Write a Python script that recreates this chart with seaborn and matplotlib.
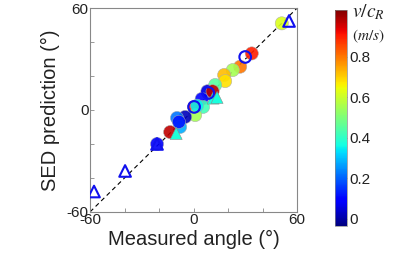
import numpy as np
import pandas as pd
import matplotlib
matplotlib.use("Agg")
import matplotlib.pyplot as plt
import seaborn as sns

# filled circles (colour = v/c_R)
circ_x = [33.7, 27.0, 22.7, 17.7, 18.3, 12.5, 9.6, 8.0, 11.0, 4.7, 5.5, 0.3, 0.9, -4.9, -9.6, -7.8, -13.6, 51.1, -21.2, 2.0, -8.5]
circ_y = [33.3, 25.5, 23.5, 20.6, 17.0, 14.7, 10.0, 11.0, 11.0, 6.5, 1.8, 1.8, -3.0, -4.1, -4.7, -10.0, -13.0, 51.0, -20.0, 2.5, -7.0]
circ_v = [0.90, 0.80, 0.55, 0.72, 0.68, 0.45, 0.40, 0.05, 0.97, 0.10, 0.42, 0.90, 0.55, 0.02, 0.22, 0.28, 0.97, 0.62, 0.08, 0.35, 0.12]

# filled triangles
tri_x = [11.3, 13.6, -10.1]
tri_y = [7.0, 7.4, -13.8]
tri_v = [0.37, 0.37, 0.38]

# open blue circles
ocirc_x = [29.9, 8.5, 0.3]
ocirc_y = [31.2, 10.0, 1.8]

# open blue triangles
otri_x = [-57.7, -39.7, -21.2, 55.3]
otri_y = [-48.0, -35.9, -20.0, 52.4]

ticks = [-60, -40, -20, 0, 20, 40, 60]
tick_labels = ["-60", "", "", "0", "", "", "60"]
cbar_ticks = [0, 0.2, 0.4, 0.6, 0.8]
vmin, vmax = -0.035, 1.03

sns.set_style("white")
plt.rcParams['font.family'] = ['Liberation Sans', 'DejaVu Sans']
plt.rcParams['mathtext.fontset'] = 'stix'

fig = plt.figure(figsize=(4.15, 2.6), dpi=100)
ax = fig.add_axes([0.217, 0.185, 0.499, 0.784])
cax = fig.add_axes([0.807, 0.131, 0.029, 0.831])

norm = matplotlib.colors.Normalize(vmin=vmin, vmax=vmax)
cmap = plt.get_cmap('jet')

ax.plot([-60, 60], [-60, 60], ls=(0, (4, 3)), color='black', lw=0.8, zorder=1)

dfc = pd.DataFrame({"x": circ_x, "y": circ_y, "v": circ_v})
sns.scatterplot(data=dfc, x="x", y="y", hue="v", palette=cmap, hue_norm=norm,
                s=90, marker='o', edgecolor='#aaaaaa', linewidth=0.4, alpha=0.9,
                legend=False, ax=ax, zorder=2)
dft = pd.DataFrame({"x": tri_x, "y": tri_y, "v": tri_v})
sns.scatterplot(data=dft, x="x", y="y", hue="v", palette=cmap, hue_norm=norm,
                s=75, marker='^', edgecolor='#888888', linewidth=0.4,
                legend=False, ax=ax, zorder=3)
dfo = pd.DataFrame({"x": ocirc_x, "y": ocirc_y})
sns.scatterplot(data=dfo, x="x", y="y", s=70, marker='o', facecolor='none',
                edgecolor='#1010ee', linewidth=1.5, legend=False, ax=ax, zorder=4)
dfot = pd.DataFrame({"x": otri_x, "y": otri_y})
sns.scatterplot(data=dfot, x="x", y="y", s=70, marker='^', facecolor='none',
                edgecolor='#1010ee', linewidth=1.5, legend=False, ax=ax, zorder=5)

ax.set_xlim(-60, 60)
ax.set_ylim(-60, 60)
ax.set_xticks(ticks)
ax.set_xticklabels(tick_labels)
ax.set_yticks(ticks)
ax.set_yticklabels(tick_labels)
ax.tick_params(direction='in', length=3, width=0.6, color='#888888', labelsize=11,
               labelcolor='#222222', pad=1, bottom=True, left=True)
for sp in ax.spines.values():
    sp.set_color('#888888')
    sp.set_linewidth(0.8)
ax.set_xlabel("Measured angle (°)", fontsize=14.5, color='#222222', labelpad=2)
ax.set_ylabel("SED prediction (°)", fontsize=14.5, color='#222222', labelpad=5)

sm = matplotlib.cm.ScalarMappable(norm=norm, cmap=cmap)
cb = fig.colorbar(sm, cax=cax, ticks=cbar_ticks)
cb.ax.set_yticklabels(["0", "0.2", "0.4", "0.6", "0.8"])
cb.ax.tick_params(direction='in', length=3, width=0.5, color='#888888', labelsize=11,
                  labelcolor='#222222', pad=2)
cb.outline.set_linewidth(0.5)
cb.outline.set_edgecolor('#888888')
fig.text(0.848, 0.955, r"$v/c_R$", fontsize=14, va='center', ha='left', color='#222222')
fig.text(0.848, 0.86, r"$(m/s)$", fontsize=11, va='center', ha='left', color='#222222')

fig.savefig("out.png", dpi=100)
